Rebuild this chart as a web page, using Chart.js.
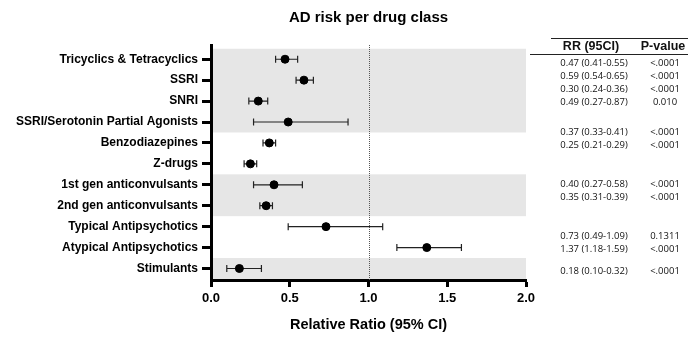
<!DOCTYPE html>
<html lang="en">
<head>
<meta charset="UTF-8">
<title>AD risk per drug class</title>
<script src="https://cdn.jsdelivr.net/npm/chart.js"></script>
<style>
  body { margin: 0; background: #fff; font-family: "Liberation Sans", Arial, sans-serif; }
  .wrap { position: relative; width: 688px; height: 347px; overflow: hidden; }
  #forest { position: absolute; left: 0; top: 0; }
  .rule { position: absolute; height: 1px; background: #222; }
  .cell { position: absolute; text-align: center; white-space: nowrap; color: #111; }
  .head { font-family: "Liberation Sans Narrow", "Liberation Sans", Arial, sans-serif; font-weight: bold; font-size: 12.5px; line-height: 14px; }
  .val { font-family: "Open Sans", sans-serif; font-size: 9.5px; line-height: 12px; }
</style>
</head>
<body>
<div class="wrap" id="wrap">
  <canvas id="forest" width="688" height="347"></canvas>
</div>

<script>
const drugClasses = [
  'Tricyclics & Tetracyclics', 'SSRI', 'SNRI', 'SSRI/Serotonin Partial Agonists',
  'Benzodiazepines', 'Z-drugs', '1st gen anticonvulsants', '2nd gen anticonvulsants',
  'Typical Antipsychotics', 'Atypical Antipsychotics', 'Stimulants'
];
const relRisk = [0.47, 0.59, 0.30, 0.49, 0.37, 0.25, 0.40, 0.35, 0.73, 1.37, 0.18];
const ciLow   = [0.41, 0.54, 0.24, 0.27, 0.33, 0.21, 0.27, 0.31, 0.49, 1.18, 0.10];
const ciHigh  = [0.55, 0.65, 0.36, 0.87, 0.41, 0.29, 0.58, 0.39, 1.09, 1.59, 0.32];
const pValues = ['<.0001', '<.0001', '<.0001', '0.010', '<.0001', '<.0001',
                 '<.0001', '<.0001', '0.1311', '<.0001', '<.0001'];
const xTicks = [0, 0.5, 1.0, 1.5, 2.0];
const shadedGroups = [[0, 3], [6, 7], [10, 10]];   // row index ranges with grey background

// table layout (px)
const tableRowTops = [57, 70, 83, 96, 126, 139, 178, 191, 230, 243, 265];

const wrap = document.getElementById('wrap');
function addEl(cls, style, text) {
  const d = document.createElement('div');
  d.className = cls;
  Object.assign(d.style, style);
  if (text !== undefined) d.textContent = text;
  wrap.appendChild(d);
}
addEl('rule', { left: '551px', top: '38px', width: '137px' });
addEl('rule', { left: '530px', top: '54px', width: '158px' });
addEl('cell head', { left: '551px', top: '39px', width: '80px' }, 'RR (95CI)');
addEl('cell head', { left: '634px', top: '39px', width: '58px' }, 'P-value');
relRisk.forEach((v, i) => {
  const txt = v.toFixed(2) + ' (' + ciLow[i].toFixed(2) + '-' + ciHigh[i].toFixed(2) + ')';
  addEl('cell val', { left: '554px', top: tableRowTops[i] + 'px', width: '80px' }, txt);
  addEl('cell val', { left: '636px', top: tableRowTops[i] + 'px', width: '58px' }, pValues[i]);
});

const forestExtras = {
  id: 'forestExtras',
  beforeDraw(chart) {
    const { ctx, chartArea: a, scales: { y } } = chart;
    ctx.save();
    ctx.beginPath();
    ctx.rect(a.left, a.top, a.right - a.left, a.bottom - a.top);
    ctx.clip();
    ctx.fillStyle = '#e6e6e6';
    shadedGroups.forEach(([s, e]) => {
      const y1 = y.getPixelForValue(s - 0.5);
      const y2 = y.getPixelForValue(e + 0.5);
      ctx.fillRect(a.left, Math.min(y1, y2), a.right - a.left, Math.abs(y2 - y1));
    });
    ctx.restore();
  },
  beforeDatasetsDraw(chart) {
    const { ctx, chartArea: a, scales: { x, y } } = chart;
    ctx.save();
    // reference line at RR = 1
    const x1 = Math.round(x.getPixelForValue(1)) + 0.5;
    ctx.strokeStyle = '#555';
    ctx.lineWidth = 1;
    ctx.setLineDash([1, 1]);
    ctx.beginPath();
    ctx.moveTo(x1, a.top);
    ctx.lineTo(x1, a.bottom);
    ctx.stroke();
    ctx.setLineDash([]);
    // confidence intervals
    ctx.strokeStyle = '#222';
    ctx.lineWidth = 1.2;
    relRisk.forEach((v, i) => {
      const py = y.getPixelForValue(i);
      const lo = x.getPixelForValue(ciLow[i]);
      const hi = x.getPixelForValue(ciHigh[i]);
      ctx.beginPath();
      ctx.moveTo(lo, py); ctx.lineTo(hi, py);
      ctx.moveTo(lo, py - 3.5); ctx.lineTo(lo, py + 3.5);
      ctx.moveTo(hi, py - 3.5); ctx.lineTo(hi, py + 3.5);
      ctx.stroke();
    });
    ctx.restore();
  },
  afterDraw(chart) {
    const { ctx, chartArea: a } = chart;
    ctx.save();
    ctx.fillStyle = '#000';
    ctx.font = 'bold 15px "Liberation Sans", Arial, sans-serif';
    ctx.textAlign = 'center';
    ctx.textBaseline = 'middle';
    ctx.fillText('AD risk per drug class', (a.left + a.right) / 2, 18);
    ctx.restore();
  }
};

new Chart(document.getElementById('forest').getContext('2d'), {
  type: 'scatter',
  data: {
    datasets: [{
      data: relRisk.map((v, i) => ({ x: v, y: i })),
      pointRadius: 4,
      pointBackgroundColor: '#000',
      pointBorderColor: '#000',
      showLine: false
    }]
  },
  options: {
    responsive: false,
    animation: false,
    layout: { padding: { top: 45, right: 162, bottom: 13, left: 12 } },
    plugins: { legend: { display: false }, tooltip: { enabled: false }, title: { display: false } },
    scales: {
      x: {
        type: 'linear',
        min: 0, max: 2,
        afterBuildTicks: s => { s.ticks = xTicks.map(v => ({ value: v })); },
        border: { display: true, color: '#000', width: 3 },
        grid: { drawOnChartArea: false, drawTicks: true, tickLength: 7, tickWidth: 3, tickColor: '#000' },
        ticks: {
          color: '#000', padding: 4,
          font: { family: '"Liberation Sans", Arial, sans-serif', size: 13, weight: 'bold' },
          callback: v => Number(v).toFixed(1)
        },
        title: {
          display: true, text: 'Relative Ratio (95% CI)', color: '#000',
          font: { family: '"Liberation Sans", Arial, sans-serif', size: 14.5, weight: 'bold' },
          padding: { top: 6, bottom: 0 }
        }
      },
      y: {
        type: 'linear',
        reverse: true,
        min: -0.68, max: 10.55,
        afterBuildTicks: s => { s.ticks = drugClasses.map((_, i) => ({ value: i })); },
        border: { display: true, color: '#000', width: 3 },
        grid: { drawOnChartArea: false, drawTicks: true, tickLength: 9, tickWidth: 3, tickColor: '#000' },
        ticks: {
          color: '#000', padding: 4, autoSkip: false,
          font: { family: '"Liberation Sans", Arial, sans-serif', size: 12, weight: 'bold' },
          callback: v => drugClasses[v]
        }
      }
    }
  },
  plugins: [forestExtras]
});
</script>
</body>
</html>
